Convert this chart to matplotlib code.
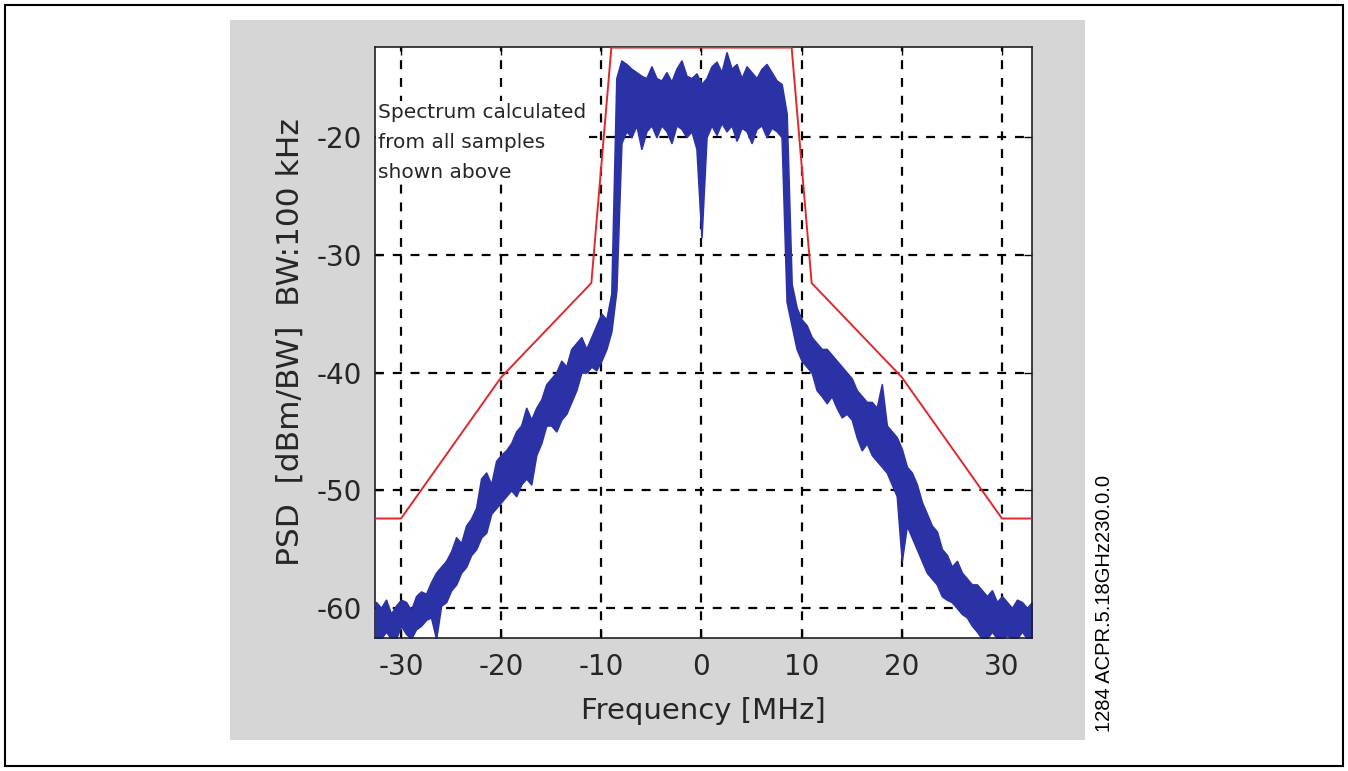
import matplotlib

matplotlib.use("Agg")

import matplotlib.pyplot as plt
from matplotlib.patches import Rectangle

plt.rcParams["axes.unicode_minus"] = False

# spectral emission mask (802.11-style), dBm / 100 kHz
mask_freq = [-33, -30, -20, -11, -9, 9, 11, 20, 30, 33]
mask_psd = [-52.4, -52.4, -40.4, -32.4, -12.4, -12.4, -32.4, -40.4, -52.4, -52.4]

# measured spectrum, read as lower / upper envelope every 0.5 MHz
freq = [x * 0.5 for x in range(-65, 67)]
psd_low = [
    -62.6, -62.6, -62.0, -62.6, -62.6, -61.5, -62.2, -62.6, -61.8, -61.5,
    -61.0, -60.8, -62.6, -59.8, -59.5, -58.5, -58.0, -57.0, -56.5, -55.5,
    -55.0, -54.0, -53.6, -52.0, -51.5, -51.0, -50.5, -50.0, -50.5, -49.5,
    -49.0, -49.5, -47.0, -46.0, -44.5, -44.5, -45.0, -44.0, -43.5, -42.5,
    -41.5, -40.0, -40.0, -39.5, -39.8, -39.0, -38.0, -36.5, -33.0, -20.5,
    -19.5, -20.0, -19.0, -21.0, -19.5, -19.0, -20.0, -19.0, -19.5, -20.5,
    -19.0, -19.3, -20.0, -19.5, -21.0, -28.5, -20.0, -19.0, -19.8, -18.8,
    -19.5, -19.0, -20.3, -19.2, -19.5, -20.5, -19.3, -19.0, -20.0, -19.2,
    -19.5, -20.0, -34.0, -36.0, -38.0, -39.0, -39.5, -40.0, -41.5, -42.0,
    -42.6, -42.0, -43.0, -43.8, -43.5, -44.0, -45.5, -46.6, -46.0, -47.0,
    -47.5, -48.0, -48.5, -49.5, -50.5, -56.0, -53.0, -54.0, -55.0, -56.0,
    -57.0, -57.5, -58.0, -59.0, -59.3, -59.5, -60.0, -60.5, -60.8, -61.5,
    -62.0, -62.6, -62.6, -62.0, -62.6, -62.6, -62.3, -62.6, -62.6, -62.0,
    -62.6, -62.6,
]
psd_high = [
    -59.5, -60.0, -59.3, -60.5, -59.8, -59.3, -59.5, -60.2, -59.0, -58.6,
    -58.8, -57.8, -57.0, -56.5, -56.0, -55.2, -54.0, -54.5, -53.0, -52.4,
    -51.5, -49.0, -48.5, -49.5, -47.5, -47.0, -46.6, -46.0, -45.0, -44.5,
    -43.0, -44.0, -43.0, -42.3, -41.0, -40.5, -40.0, -39.0, -39.5, -38.0,
    -37.5, -37.0, -38.0, -37.0, -36.0, -35.0, -35.5, -33.3, -15.0, -13.5,
    -13.8, -14.2, -14.5, -14.8, -15.0, -14.0, -15.0, -15.2, -14.5, -15.3,
    -14.2, -13.5, -14.8, -15.0, -14.6, -15.5, -15.0, -14.0, -13.6, -14.5,
    -12.8, -14.2, -13.8, -15.0, -14.0, -14.5, -15.0, -14.2, -13.8, -14.5,
    -15.2, -15.5, -18.0, -32.5, -34.5, -35.5, -36.0, -37.0, -37.5, -38.0,
    -38.0, -38.5, -39.0, -39.5, -40.0, -40.5, -41.5, -42.0, -42.5, -42.5,
    -43.0, -41.0, -44.5, -45.0, -45.5, -46.5, -48.0, -48.5, -49.5, -51.0,
    -52.0, -53.0, -53.5, -55.0, -55.5, -56.5, -56.0, -57.0, -57.5, -58.0,
    -58.0, -58.5, -59.0, -58.5, -59.5, -59.0, -59.5, -60.0, -59.3, -59.5,
    -60.0, -59.5,
]

x_ticks = [-30, -20, -10, 0, 10, 20, 30]
y_ticks = [-60, -50, -40, -30, -20]

BLUE = "#2a32a6"
RED = "#e0282e"
TXT = "#262626"

fig = plt.figure(figsize=(13.48, 7.71), dpi=100)
fig.patch.set_facecolor("white")

# outer frame and grey plot panel, kept behind the axes
fig.patches.append(Rectangle((0.004, 0.006), 0.992, 0.988, transform=fig.transFigure,
                             facecolor="none", edgecolor="black", linewidth=1.5,
                             zorder=-2))
fig.patches.append(Rectangle((230 / 1348, 1 - 740 / 771), 855 / 1348, 720 / 771,
                             transform=fig.transFigure, facecolor="#d6d6d6",
                             edgecolor="none", zorder=-1))

ax = fig.add_axes([375 / 1348, 1 - 638 / 771, 657 / 1348, 591 / 771])
ax.set_facecolor("white")

ax.fill_between(freq, psd_low, psd_high, color=BLUE, linewidth=1.2, edgecolor=BLUE)
ax.plot(mask_freq, mask_psd, color=RED, linewidth=1.4, zorder=3)

ax.set_xlim(-32.6, 33.0)
ax.set_ylim(-62.55, -12.35)
ax.set_xticks(x_ticks)
ax.set_yticks(y_ticks)
ax.grid(True, color="black", linestyle=(0, (4, 4)), linewidth=1.6)
ax.set_axisbelow(True)
ax.tick_params(direction="in", length=6, width=1, labelsize=20, labelcolor=TXT,
               top=True, right=True)
ax.tick_params(axis="x", pad=11)
ax.tick_params(axis="y", pad=9)
for s in ax.spines.values():
    s.set_color("#202020")
    s.set_linewidth(1.2)

ax.set_xlabel("Frequency [MHz]", fontsize=21, color=TXT, labelpad=11)
ax.set_ylabel("PSD  [dBm/BW]  BW:100 kHz", fontsize=22.5, color=TXT, labelpad=9)

ax.text(0.005, 0.905, "Spectrum calculated\nfrom all samples\nshown above",
        transform=ax.transAxes, ha="left", va="top", fontsize=14.5, color=TXT,
        linespacing=1.72, zorder=4,
        bbox=dict(facecolor="white", edgecolor="none", pad=1.5))

fig.text(1105 / 1348, 1 - 604 / 771, "1284 ACPR.5.18GHz230.0.0", rotation=90,
         ha="center", va="center", fontsize=14.5, family="Liberation Sans", color="black")

fig.savefig("out.png", dpi=100)
